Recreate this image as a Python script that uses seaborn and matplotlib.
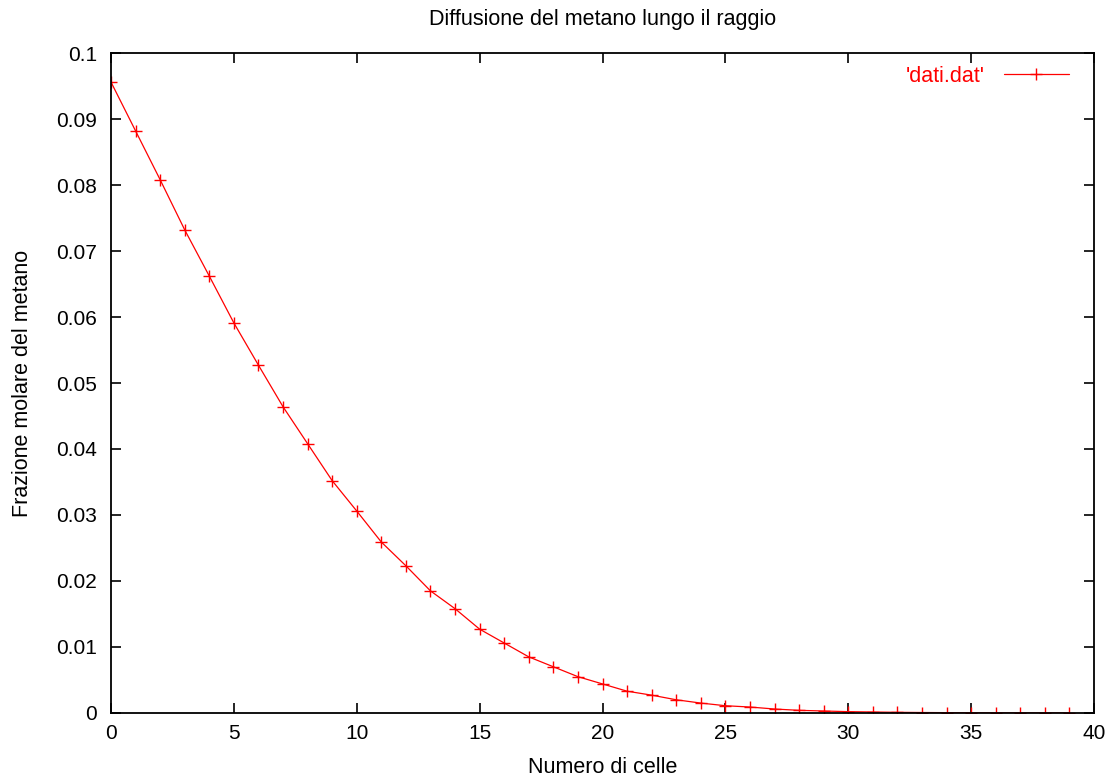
import numpy as np
import pandas as pd
import seaborn as sns
import matplotlib
matplotlib.use("Agg")
import matplotlib.pyplot as plt
from matplotlib.ticker import MultipleLocator, FormatStrFormatter

# dati
celle = list(range(40))
frazione = [0.0956, 0.0882, 0.0808, 0.0732, 0.0662, 0.0591, 0.0527, 0.0464,
            0.0408, 0.0352, 0.0306, 0.0259, 0.0223, 0.0185, 0.0158, 0.0127,
            0.0106, 0.0085, 0.0070, 0.0055, 0.0044, 0.0033, 0.0027, 0.0020,
            0.0015, 0.0011, 0.0009, 0.0006, 0.0004, 0.0003, 0.0002, 0.00015,
            0.0001, 0.00007, 0.00005, 0.00003, 0.00002, 0.00001, 0.00001, 0.0]

df = pd.DataFrame({"cella": celle, "frazione": frazione})

sns.set_theme(style="ticks")
plt.rcParams['font.family'] = ['Liberation Sans', 'DejaVu Sans']
plt.rcParams['text.color'] = 'black'
plt.rcParams['axes.labelcolor'] = 'black'
plt.rcParams['xtick.color'] = 'black'
plt.rcParams['ytick.color'] = 'black'
plt.rcParams['axes.edgecolor'] = 'black'

fig = plt.figure(figsize=(11.1, 7.81), dpi=100)
ax = fig.add_axes([0.1, 0.0871, 0.8856, 0.845])

sns.lineplot(data=df, x="cella", y="frazione", ax=ax, color="red", lw=0.9,
             marker="+", markersize=8, markeredgewidth=1.0,
             markeredgecolor="red", label="'dati.dat'")

ax.set_xlim(0, 40)
ax.set_ylim(0, 0.1)
ax.xaxis.set_major_locator(MultipleLocator(5))
ax.yaxis.set_major_locator(MultipleLocator(0.01))
ax.yaxis.set_major_formatter(FormatStrFormatter('%g'))
ax.tick_params(direction="in", length=7, width=1.2, top=True, right=True,
               labelsize=15, labelcolor="black")
ax.tick_params(axis="y", pad=10)
ax.tick_params(axis="x", pad=8)
for s in ax.spines.values():
    s.set_linewidth(1.3)

ax.set_xlabel("Numero di celle", fontsize=15.5, labelpad=10)
ax.set_ylabel("Frazione molare del metano", fontsize=15.5, labelpad=17)
ax.set_title("Diffusione del metano lungo il raggio", fontsize=15.5, pad=20)

ax.legend(loc="upper right", bbox_to_anchor=(0.985, 0.997), frameon=False,
          markerfirst=False, labelcolor="red", fontsize=15.5, handlelength=3.0,
          handletextpad=0.9, borderaxespad=0.2, borderpad=0.3)

fig.savefig("out.png", dpi=100)
